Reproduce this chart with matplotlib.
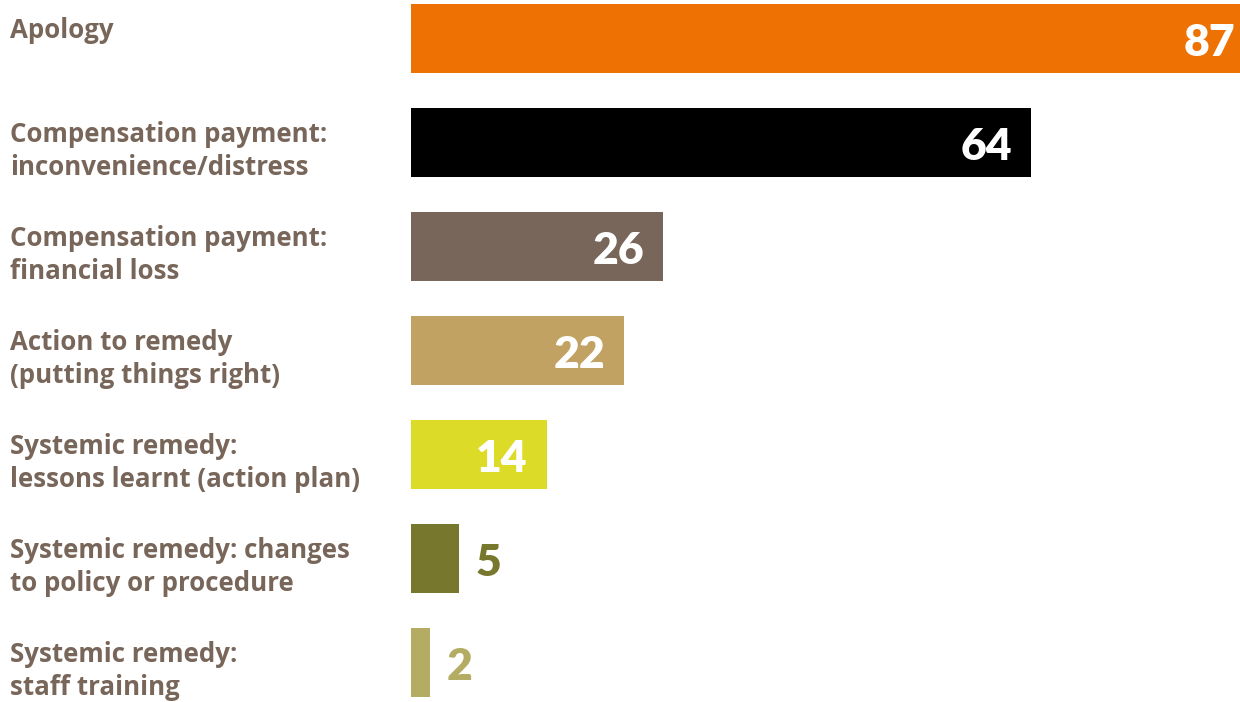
import matplotlib
matplotlib.use("Agg")
import matplotlib.pyplot as plt
import matplotlib.transforms as mtransforms

categories = [
    "Apology",
    "Compensation payment:\ninconvenience/distress",
    "Compensation payment:\nfinancial loss",
    "Action to remedy\n(putting things right)",
    "Systemic remedy:\nlessons learnt (action plan)",
    "Systemic remedy: changes\nto policy or procedure",
    "Systemic remedy:\nstaff training",
]
values = [87, 64, 26, 22, 14, 5, 2]
colors = ["#EE7203", "#000000", "#776659", "#C2A262", "#DCDC28", "#77772D", "#B3AC62"]
label_color = "#776659"

W, H, DPI = 1240, 702, 100
fig = plt.figure(figsize=(W / DPI, H / DPI), dpi=DPI)

left_px = 411
ax = fig.add_axes([left_px / W, 0, (W - left_px) / W, 1])
px_per_unit = 9.69
ax.set_xlim(0, (W - left_px) / px_per_unit)
row_px = 104.0
ax.set_ylim(6 + (H - 662.5) / row_px, -38.5 / row_px)
ax.axis("off")

bar_h = 69 / row_px
y = list(range(len(values)))
ax.barh(y, values, height=bar_h, color=colors, edgecolor="none")

label_font = "Open Sans"
label_size = 18.6
line_px = 33.5
# category labels, one text per line, left-aligned in figure coords
trans = mtransforms.blended_transform_factory(fig.transFigure, ax.transData)
for i, lab in enumerate(categories):
    top = i - bar_h / 2
    for k, line in enumerate(lab.split("\n")):
        base = top + (33.5 + k * line_px) / row_px
        ax.text(10 / W, base, line, transform=trans, ha="left", va="baseline",
                fontsize=label_size, fontweight="bold", family=label_font,
                color=label_color)

# value labels
num_font = "Lato"
num_size = 32
for i, v in enumerate(values):
    base = i + 18.0 / row_px
    if v >= 10:
        ax.text(v - 19 / px_per_unit, base, str(v), ha="right", va="baseline",
                fontsize=num_size, fontweight="heavy", family=num_font, color="white")
    else:
        ax.text(v + 16 / px_per_unit, base, str(v), ha="left", va="baseline",
                fontsize=num_size, fontweight="heavy", family=num_font, color=colors[i])

fig.savefig("out.png", dpi=DPI, facecolor="white")
